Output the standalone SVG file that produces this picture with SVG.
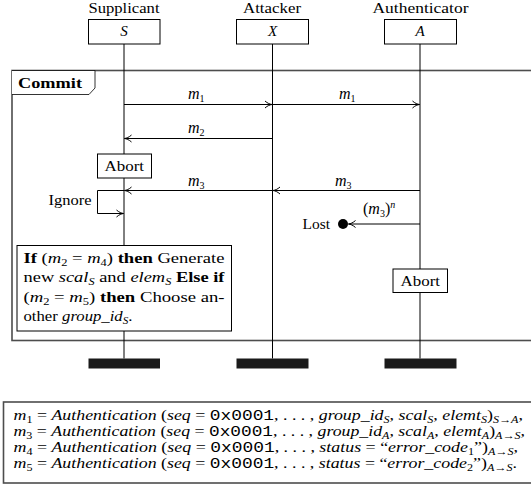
<svg xmlns="http://www.w3.org/2000/svg" width="531" height="486" viewBox="0 0 531 486" font-family="Liberation Serif, DejaVu Serif, serif">
<style>
text{font-family:'Liberation Serif','DejaVu Serif',serif}
.t{font-size:15px;fill:#000}
.i{font-style:italic}
.b{font-weight:bold}
tspan.mono{font-family:'Liberation Mono','DejaVu Sans Mono',monospace}
.sb{font-size:10px}
.f{font-size:14px}
.f .sb{font-size:9.5px}
.ml{font-size:16px}
.box{fill:#fff;stroke:#000;stroke-width:1}
.life{stroke:#000;stroke-width:1;fill:none}
.msg{stroke:#000;stroke-width:1;fill:none;marker-end:url(#ah)}
.bar{fill:#1a1a1a}
.frame{fill:none;stroke:#4d4d4d;stroke-width:1.6}
</style>
<defs>
<marker id="ah" viewBox="-8 -5 9 10" refX="0" refY="0" markerWidth="9" markerHeight="10" markerUnits="userSpaceOnUse" orient="auto">
<path d="M-7,-3.5 C-4.5,-1.2 -2,-0.3 0,0 C-2,0.3 -4.5,1.2 -7,3.5" fill="none" stroke="#000" stroke-width="1"/>
</marker>
</defs>
<rect width="531" height="486" fill="#fff"/>

<g id="commit-frame">
<rect class="frame" x="12" y="70.5" width="600" height="270"/>
<path d="M12,70.5 H95 V88 L89,94.5 H12" fill="#fff" stroke="#000" stroke-width="0.8"/>
<text class="t b" x="18" y="88" textLength="64" lengthAdjust="spacingAndGlyphs">Commit</text>
</g>

<g id="supplicant">
<text class="t" x="88.5" y="13" textLength="71" lengthAdjust="spacingAndGlyphs">Supplicant</text>
<line class="life" x1="124" y1="44" x2="124" y2="358.5"/>
<rect class="box" x="88.5" y="19.5" width="71.5" height="24.5"/>
<text class="t i" x="124" y="36" text-anchor="middle">S</text>
<rect class="bar" x="88.5" y="358.5" width="71.5" height="10"/>
</g>

<g id="attacker">
<text class="t" x="243" y="13" textLength="58" lengthAdjust="spacingAndGlyphs">Attacker</text>
<line class="life" x1="272.5" y1="44" x2="272.5" y2="358.5"/>
<rect class="box" x="236.5" y="19.5" width="72" height="24.5"/>
<text class="t i" x="272.5" y="36" text-anchor="middle">X</text>
<rect class="bar" x="236.5" y="358.5" width="72" height="10"/>
</g>

<g id="authenticator">
<text class="t" x="372.5" y="13" textLength="96" lengthAdjust="spacingAndGlyphs">Authenticator</text>
<line class="life" x1="420" y1="44" x2="420" y2="358.5"/>
<rect class="box" x="384.5" y="19.5" width="72" height="24.5"/>
<text class="t i" x="420" y="36" text-anchor="middle">A</text>
<rect class="bar" x="384.5" y="358.5" width="72" height="10"/>
</g>

<g id="connectors">
<line class="msg" x1="124" y1="104.5" x2="272" y2="104.5"/>
<line class="msg" x1="272.5" y1="104.5" x2="419.5" y2="104.5"/>
<line class="msg" x1="272.5" y1="138.5" x2="124.5" y2="138.5"/>
<line class="msg" x1="420" y1="190.5" x2="273" y2="190.5"/>
<line class="msg" x1="272.5" y1="190.5" x2="124.5" y2="190.5"/>
<path class="msg" d="M124,190.5 H97.5 V213.5 H123.5"/>
<line class="msg" x1="420" y1="224" x2="348.5" y2="224"/>
<text class="t ml" x="188" y="99"><tspan class="i">m</tspan><tspan class="sb" dy="3">1</tspan></text>
<text class="t ml" x="339" y="99"><tspan class="i">m</tspan><tspan class="sb" dy="3">1</tspan></text>
<text class="t ml" x="188" y="133"><tspan class="i">m</tspan><tspan class="sb" dy="3">2</tspan></text>
<text class="t ml" x="188" y="185.5"><tspan class="i">m</tspan><tspan class="sb" dy="3">3</tspan></text>
<text class="t ml" x="335" y="185.5"><tspan class="i">m</tspan><tspan class="sb" dy="3">3</tspan></text>
<text class="t ml" x="363" y="214">(<tspan class="i">m</tspan><tspan class="sb" dy="3">3</tspan><tspan dy="-3">)</tspan><tspan class="sb i" dy="-6">n</tspan></text>
<text class="t" x="48.5" y="205" textLength="43" lengthAdjust="spacingAndGlyphs">Ignore</text>
</g>

<g id="lost">
<circle cx="343" cy="224" r="5" fill="#000"/>
<text class="t" x="302.5" y="228.5" textLength="27.5" lengthAdjust="spacingAndGlyphs">Lost</text>
</g>

<g id="abort-s">
<rect class="box" x="97.5" y="154" width="54" height="24"/>
<text class="t" x="104.5" y="170.5" textLength="39.5" lengthAdjust="spacingAndGlyphs">Abort</text>
</g>

<g id="abort-a">
<rect class="box" x="393" y="269" width="54.5" height="23.5"/>
<text class="t" x="400.5" y="286" textLength="39.5" lengthAdjust="spacingAndGlyphs">Abort</text>
</g>

<g id="condition">
<rect class="box" x="17" y="245.5" width="214.5" height="85.5"/>
<text class="t" x="23.5" y="263" textLength="201" lengthAdjust="spacingAndGlyphs"><tspan class="b">If</tspan> (<tspan class="i">m</tspan><tspan class="sb" dy="3">2</tspan><tspan dy="-3"> = </tspan><tspan class="i">m</tspan><tspan class="sb" dy="3">4</tspan><tspan dy="-3">) </tspan><tspan class="b">then</tspan> Generate</text>
<text class="t" x="23.5" y="282" textLength="201" lengthAdjust="spacingAndGlyphs">new <tspan class="i">scal</tspan><tspan class="sb i" dy="3">S</tspan><tspan dy="-3"> and </tspan><tspan class="i">elem</tspan><tspan class="sb i" dy="3">S</tspan><tspan class="b" dy="-3"> Else if</tspan></text>
<text class="t" x="23.5" y="301.5" textLength="201" lengthAdjust="spacingAndGlyphs">(<tspan class="i">m</tspan><tspan class="sb" dy="3">2</tspan><tspan dy="-3"> = </tspan><tspan class="i">m</tspan><tspan class="sb" dy="3">5</tspan><tspan dy="-3">) </tspan><tspan class="b">then</tspan> Choose an-</text>
<text class="t" x="23.5" y="320.5" textLength="109" lengthAdjust="spacingAndGlyphs">other <tspan class="i">group_id</tspan><tspan class="sb i" dy="3">S</tspan><tspan dy="-3">.</tspan></text>
</g>

<g id="definitions">
<rect class="frame" x="3.5" y="402" width="600" height="81"/>
<text class="t f" x="13.5" y="420" textLength="509.5" lengthAdjust="spacingAndGlyphs"><tspan class="i">m</tspan><tspan class="sb" dy="2.5">1</tspan><tspan dy="-2.5"> = </tspan><tspan class="i">Authentication</tspan> (<tspan class="i">seq</tspan> = <tspan class="mono">0x0001</tspan>, . . . , <tspan class="i">group_id</tspan><tspan class="sb i" dy="2.5">S</tspan><tspan dy="-2.5">, </tspan><tspan class="i">scal</tspan><tspan class="sb i" dy="2.5">S</tspan><tspan dy="-2.5">, </tspan><tspan class="i">elemt</tspan><tspan class="sb i" dy="2.5">S</tspan><tspan dy="-2.5">)</tspan><tspan class="sb i" dy="2.5">S→A</tspan><tspan dy="-2.5">,</tspan></text>
<text class="t f" x="13.5" y="436" textLength="511.5" lengthAdjust="spacingAndGlyphs"><tspan class="i">m</tspan><tspan class="sb" dy="2.5">3</tspan><tspan dy="-2.5"> = </tspan><tspan class="i">Authentication</tspan> (<tspan class="i">seq</tspan> = <tspan class="mono">0x0001</tspan>, . . . , <tspan class="i">group_id</tspan><tspan class="sb i" dy="2.5">A</tspan><tspan dy="-2.5">, </tspan><tspan class="i">scal</tspan><tspan class="sb i" dy="2.5">A</tspan><tspan dy="-2.5">, </tspan><tspan class="i">elemt</tspan><tspan class="sb i" dy="2.5">A</tspan><tspan dy="-2.5">)</tspan><tspan class="sb i" dy="2.5">A→S</tspan><tspan dy="-2.5">,</tspan></text>
<text class="t f" x="13.5" y="452" textLength="504.5" lengthAdjust="spacingAndGlyphs"><tspan class="i">m</tspan><tspan class="sb" dy="2.5">4</tspan><tspan dy="-2.5"> = </tspan><tspan class="i">Authentication</tspan> (<tspan class="i">seq</tspan> = <tspan class="mono">0x0001</tspan>, . . . , <tspan class="i">status</tspan> = “<tspan class="i">error_code</tspan><tspan class="sb" dy="2.5">1</tspan><tspan dy="-2.5">”)</tspan><tspan class="sb i" dy="2.5">A→S</tspan><tspan dy="-2.5">,</tspan></text>
<text class="t f" x="13.5" y="468" textLength="503.5" lengthAdjust="spacingAndGlyphs"><tspan class="i">m</tspan><tspan class="sb" dy="2.5">5</tspan><tspan dy="-2.5"> = </tspan><tspan class="i">Authentication</tspan> (<tspan class="i">seq</tspan> = <tspan class="mono">0x0001</tspan>, . . . , <tspan class="i">status</tspan> = “<tspan class="i">error_code</tspan><tspan class="sb" dy="2.5">2</tspan><tspan dy="-2.5">”)</tspan><tspan class="sb i" dy="2.5">A→S</tspan><tspan dy="-2.5">.</tspan></text>
</g>
</svg>
